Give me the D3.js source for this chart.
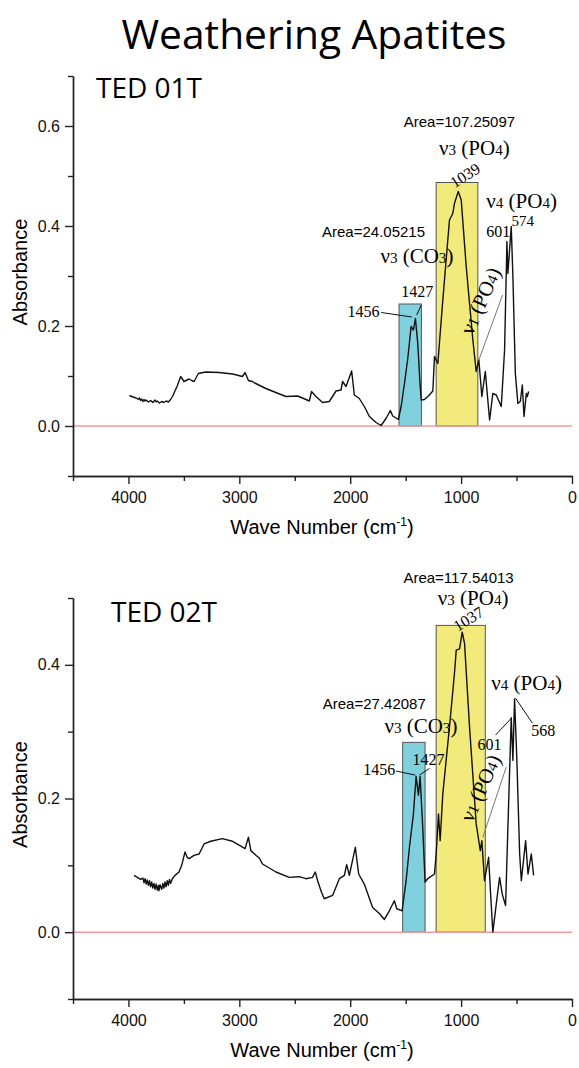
<!DOCTYPE html>
<html>
<head>
<meta charset="utf-8">
<script src="https://cdn.jsdelivr.net/npm/d3@7"></script>
<style>
  body { margin: 0; background: #fff; }
  svg { display: block; }
  .axis path, .axis line { stroke: #222; stroke-width: 1.4px; }
  .axis text { font-family: "Liberation Sans", Arial, sans-serif; font-size: 16px; fill: #111; }
</style>
</head>
<body>
<div id="chart"></div>
<script>
// tick labels
const xTicksMajor = [4000, 3000, 2000, 1000, 0];
const xTicksMinor = [4500, 3500, 2500, 1500, 500];

// TED 01T spectrum (wave number, absorbance)
const wn01 = [3990, 3960, 3930, 3910, 3900, 3890, 3880, 3870, 3860, 3850, 3840, 3820, 3800, 3780, 3760, 3750, 3740, 3720, 3700, 3680, 3660, 3640, 3620, 3600, 3589, 3560, 3529, 3499, 3453, 3430, 3408, 3369, 3303, 3182, 3060, 2972, 2948, 2918, 2882, 2861, 2761, 2660, 2580, 2475, 2420, 2369, 2349, 2309, 2249, 2189, 2128, 2083, 2069, 2038, 1987, 1963, 1918, 1870, 1827, 1767, 1722, 1677, 1638, 1617, 1566, 1540, 1511, 1481, 1451, 1430, 1412, 1391, 1372, 1360, 1331, 1295, 1255, 1240, 1210, 1165, 1105, 1075, 1060, 1026, 999, 954, 894, 864, 840, 813, 782, 743, 714, 683, 638, 608, 593, 587, 578, 548, 533, 511, 488, 466, 448, 433, 412, 403, 391];
const abs01 = [0.061, 0.058, 0.056, 0.053, 0.056, 0.051, 0.054, 0.049, 0.053, 0.050, 0.052, 0.048, 0.051, 0.047, 0.052, 0.048, 0.050, 0.046, 0.049, 0.047, 0.050, 0.048, 0.053, 0.060, 0.066, 0.080, 0.099, 0.089, 0.094, 0.091, 0.089, 0.105, 0.108, 0.107, 0.104, 0.099, 0.107, 0.091, 0.089, 0.086, 0.075, 0.066, 0.059, 0.060, 0.055, 0.050, 0.069, 0.059, 0.047, 0.049, 0.070, 0.072, 0.089, 0.079, 0.110, 0.062, 0.055, 0.038, 0.019, 0.007, 0.001, 0.015, 0.031, 0.020, 0.013, 0.040, 0.085, 0.135, 0.199, 0.192, 0.215, 0.165, 0.090, 0.052, 0.053, 0.060, 0.070, 0.139, 0.125, 0.252, 0.412, 0.425, 0.445, 0.469, 0.452, 0.319, 0.172, 0.109, 0.132, 0.059, 0.109, 0.012, 0.065, 0.062, 0.039, 0.152, 0.305, 0.369, 0.305, 0.399, 0.299, 0.105, 0.045, 0.049, 0.082, 0.019, 0.065, 0.059, 0.069];

// TED 02T spectrum
const wn02 = [3950, 3920, 3890, 3870, 3860, 3850, 3840, 3830, 3820, 3810, 3800, 3790, 3780, 3770, 3760, 3750, 3740, 3730, 3725, 3715, 3700, 3690, 3680, 3670, 3660, 3650, 3640, 3630, 3620, 3604, 3580, 3544, 3520, 3490, 3470, 3453, 3408, 3363, 3318, 3258, 3153, 3062, 2990, 2948, 2918, 2896, 2851, 2820, 2791, 2670, 2550, 2460, 2400, 2340, 2315, 2294, 2260, 2234, 2159, 2098, 2053, 2032, 2008, 1954, 1924, 1873, 1798, 1737, 1692, 1647, 1602, 1580, 1532, 1496, 1466, 1430, 1406, 1385, 1370, 1346, 1325, 1301, 1240, 1225, 1204, 1189, 1165, 1105, 1060, 1044, 1014, 990, 969, 924, 864, 827, 813, 789, 752, 734, 714, 683, 653, 629, 599, 578, 548, 533, 518, 497, 472, 457, 418, 397, 367, 346];
const abs02 = [0.085, 0.082, 0.079, 0.081, 0.074, 0.080, 0.072, 0.078, 0.070, 0.077, 0.068, 0.075, 0.066, 0.073, 0.064, 0.072, 0.063, 0.070, 0.062, 0.071, 0.064, 0.073, 0.066, 0.075, 0.068, 0.077, 0.070, 0.079, 0.073, 0.080, 0.085, 0.090, 0.100, 0.120, 0.112, 0.110, 0.115, 0.117, 0.132, 0.136, 0.140, 0.136, 0.129, 0.125, 0.142, 0.122, 0.115, 0.111, 0.102, 0.090, 0.082, 0.083, 0.080, 0.082, 0.090, 0.077, 0.060, 0.050, 0.055, 0.080, 0.085, 0.101, 0.085, 0.127, 0.087, 0.072, 0.037, 0.028, 0.019, 0.032, 0.047, 0.035, 0.032, 0.077, 0.127, 0.177, 0.233, 0.205, 0.233, 0.157, 0.075, 0.080, 0.087, 0.117, 0.177, 0.137, 0.207, 0.307, 0.387, 0.422, 0.424, 0.449, 0.432, 0.307, 0.162, 0.122, 0.137, 0.077, 0.112, 0.057, 0.000, 0.042, 0.082, 0.057, 0.040, 0.157, 0.321, 0.257, 0.349, 0.257, 0.117, 0.077, 0.137, 0.087, 0.117, 0.085];

// integrated bands: [CO3, PO4]
const bandFrom01 = [1560, 1225];
const bandTo01 = [1358, 849];
const bandTop01 = [0.244, 0.487];
const bandFrom02 = [1527, 1225];
const bandTo02 = [1325, 782];
const bandTop02 = [0.284, 0.459];
const areas01 = ["Area=24.05215", "Area=107.25097"];
const areas02 = ["Area=27.42087", "Area=117.54013"];
const peaks01 = ["1456", "1427", "1039", "601", "574"];
const peaks02 = ["1456", "1427", "1037", "601", "568"];

const W = 579, H = 1068;
const svg = d3.select("#chart").append("svg").attr("width", W).attr("height", H);

svg.append("text")
  .attr("x", 314).attr("y", 49)
  .attr("text-anchor", "middle")
  .style("font-family", "'Open Sans', sans-serif")
  .style("font-size", "40px")
  .attr("textLength", 385).attr("lengthAdjust", "spacingAndGlyphs")
  .text("Weathering Apatites");

const serif = "'Liberation Serif', 'Times New Roman', serif";
const sans = "'Liberation Sans', Arial, sans-serif";

// nu label like "ν3 (PO4)" with small digits
function nuLabel(g, px, py, n, ion, sub, opts = {}) {
  const t = g.append("text")
    .attr("x", px).attr("y", py)
    .attr("text-anchor", opts.anchor || "start")
    .style("font-family", serif)
    .style("font-size", (opts.size || 21) + "px");
  if (opts.rotate) t.attr("transform", `rotate(${opts.rotate},${px},${py})`);
  t.append("tspan").text("\u03bd");
  t.append("tspan").style("font-size", "0.72em").text(n);
  t.append("tspan").text(" (" + ion);
  t.append("tspan").style("font-size", "0.72em").text(sub);
  t.append("tspan").text(")");
  return t;
}

function drawPanel(cfg) {
  const x = d3.scaleLinear().domain([4500, 0]).range([73, 572]);
  const y = d3.scaleLinear().domain(cfg.yDomain).range(cfg.yRange);
  const g = svg.append("g");

  // bands
  const bands = cfg.bandFrom.map((f, i) => ({ from: f, to: cfg.bandTo[i], top: cfg.bandTop[i] }));
  g.selectAll("rect.band").data(bands).join("rect")
    .attr("class", "band")
    .attr("x", d => x(d.from))
    .attr("width", d => x(d.to) - x(d.from))
    .attr("y", d => y(d.top))
    .attr("height", d => y(0) - y(d.top))
    .attr("fill", (d, i) => i === 0 ? "#80d1dd" : "#f2eb7b")
    .attr("stroke", "#555")
    .attr("stroke-width", 1);

  // zero line
  g.append("line")
    .attr("x1", x(4500)).attr("x2", x(0))
    .attr("y1", y(0)).attr("y2", y(0))
    .attr("stroke", "#f29a9a").attr("stroke-width", 1.5);

  // spectrum
  const pts = cfg.wn.map((w, i) => [w, cfg.abs[i]]);
  g.append("path")
    .datum(pts)
    .attr("fill", "none")
    .attr("stroke", "#111")
    .attr("stroke-width", 1.4)
    .attr("stroke-linejoin", "round")
    .attr("d", d3.line().x(d => x(d[0])).y(d => y(d[1])));

  // axes
  const yb = cfg.yRange[0];
  g.append("g").attr("class", "axis")
    .attr("transform", `translate(0,${yb})`)
    .call(d3.axisBottom(x).tickValues(xTicksMinor).tickSize(5).tickSizeOuter(0).tickFormat(""));
  g.append("g").attr("class", "axis")
    .attr("transform", `translate(0,${yb})`)
    .call(d3.axisBottom(x).tickValues(xTicksMajor).tickSize(8).tickSizeOuter(0).tickPadding(8).tickFormat(d3.format("d")));

  const yMinor = d3.range(-1, Math.round(cfg.yDomain[1] * 10) + 1).map(v => v / 10).filter(v => cfg.yTicks.indexOf(v) < 0);
  g.append("g").attr("class", "axis")
    .attr("transform", "translate(73,0)")
    .call(d3.axisLeft(y).tickValues(yMinor).tickSize(5).tickSizeOuter(0).tickFormat(""));
  g.append("g").attr("class", "axis")
    .attr("transform", "translate(73,0)")
    .call(d3.axisLeft(y).tickValues(cfg.yTicks).tickSize(8).tickSizeOuter(0).tickPadding(5).tickFormat(d3.format(".1f")));

  g.append("text")
    .attr("transform", `translate(27,${(cfg.yRange[0] + cfg.yRange[1]) / 2 - 4}) rotate(-90)`)
    .attr("text-anchor", "middle")
    .style("font-family", sans).style("font-size", "20px")
    .text("Absorbance");

  const xl = g.append("text")
    .attr("x", 322).attr("y", yb + 58)
    .attr("text-anchor", "middle")
    .style("font-family", sans).style("font-size", "20px");
  xl.append("tspan").text("Wave Number (cm");
  xl.append("tspan").attr("dy", -8).style("font-size", "12px").text("-1");
  xl.append("tspan").attr("dy", 8).text(")");

  g.append("text")
    .attr("x", cfg.namePos[0]).attr("y", cfg.namePos[1])
    .style("font-family", "'Open Sans', sans-serif")
    .style("font-size", "28px")
    .text(cfg.name);

  cfg.annotate(g, x, y);
}

function txt(g, px, py, s, font, size, anchor, rot) {
  const t = g.append("text").attr("x", px).attr("y", py)
    .attr("text-anchor", anchor || "start")
    .style("font-family", font).style("font-size", size + "px").text(s);
  if (rot) t.attr("transform", `rotate(${rot},${px},${py})`);
  return t;
}
function lead(g, x1, y1, x2, y2, col) {
  g.append("line").attr("x1", x1).attr("y1", y1).attr("x2", x2).attr("y2", y2)
    .attr("stroke", col || "#111").attr("stroke-width", 1);
}

drawPanel({
  name: "TED 01T", namePos: [96, 98],
  yDomain: [-0.1, 0.7], yRange: [476, 76], yTicks: [0, 0.2, 0.4, 0.6],
  wn: wn01, abs: abs01,
  bandFrom: bandFrom01, bandTo: bandTo01, bandTop: bandTop01,
  annotate: (g, x, y) => {
    txt(g, x(1015), y(0.598), areas01[1], sans, 15, "middle");
    nuLabel(g, x(880), y(0.542), "3", "PO", "4", { anchor: "middle" });
    txt(g, x(1060), y(0.475), peaks01[2], serif, 16, "start", -32);
    nuLabel(g, x(773), y(0.436), "4", "PO", "4");
    txt(g, x(545), y(0.400), peaks01[4], serif, 15);
    txt(g, x(773), y(0.378), peaks01[3], serif, 16);
    txt(g, x(1790), y(0.378), areas01[0], sans, 15, "middle");
    nuLabel(g, x(1728), y(0.326), "3", "CO", "3");
    txt(g, x(1540), y(0.258), peaks01[1], serif, 16);
    txt(g, x(2025), y(0.218), peaks01[0], serif, 16);
    lead(g, x(1721), y(0.227), x(1444), y(0.218));
    lead(g, x(1360), y(0.242), x(1400), y(0.222));
    lead(g, x(840), y(0.132), x(626), y(0.262), "#777");
    nuLabel(g, x(897), y(0.18), "1", "PO", "4", { rotate: -66 });
  }
});

drawPanel({
  name: "TED 02T", namePos: [111, 622],
  yDomain: [-0.1, 0.5], yRange: [999, 598], yTicks: [0, 0.2, 0.4],
  wn: wn02, abs: abs02,
  bandFrom: bandFrom02, bandTo: bandTo02, bandTop: bandTop02,
  annotate: (g, x, y) => {
    txt(g, x(1023), y(0.522), areas02[1], sans, 15, "middle");
    nuLabel(g, x(892), y(0.489), "3", "PO", "4", { anchor: "middle" });
    txt(g, x(1030), y(0.449), peaks02[2], serif, 16, "start", -32);
    nuLabel(g, x(728), y(0.362), "4", "PO", "4");
    txt(g, x(367), y(0.294), peaks02[4], serif, 16);
    txt(g, x(852), y(0.273), peaks02[3], serif, 16);
    lead(g, x(689), y(0.295), x(548), y(0.320));
    lead(g, x(358), y(0.313), x(509), y(0.350));
    txt(g, x(1783), y(0.334), areas02[0], sans, 15, "middle");
    nuLabel(g, x(1692), y(0.298), "3", "CO", "3");
    txt(g, x(1439), y(0.250), peaks02[1], serif, 16);
    txt(g, x(1882), y(0.235), peaks02[0], serif, 16);
    lead(g, x(1586), y(0.241), x(1412), y(0.235));
    lead(g, x(1285), y(0.245), x(1376), y(0.235));
    lead(g, x(804), y(0.142), x(593), y(0.247), "#777");
    nuLabel(g, x(897), y(0.163), "1", "PO", "4", { rotate: -66 });
  }
});
</script>
</body>
</html>
